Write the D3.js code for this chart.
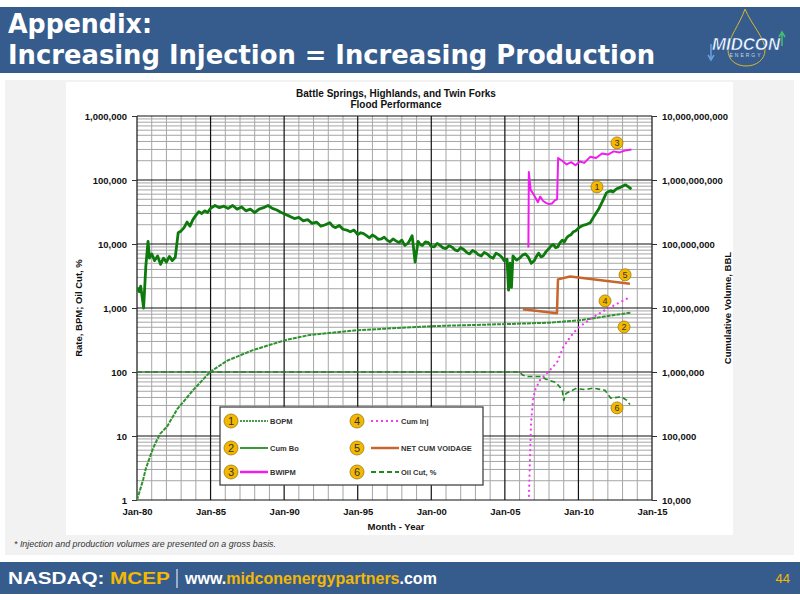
<!DOCTYPE html>
<html>
<head>
<meta charset="utf-8">
<script src="https://cdn.jsdelivr.net/npm/d3@7"></script>
<style>
  body { margin: 0; background: #fff; }
  svg { display: block; font-family: 'Liberation Sans', Arial, sans-serif; }
  .tick text { font-size: 9.5px; font-weight: bold; fill: #111; }
  .tick line { stroke: #333; }
</style>
</head>
<body>
<svg id="chart" width="800" height="600"></svg>
<script>
'use strict';

// ---- data ----
var xTickYears = [1980, 1985, 1990, 1995, 2000, 2005, 2010, 2015];
var xTickLabels = ['Jan-80', 'Jan-85', 'Jan-90', 'Jan-95', 'Jan-00', 'Jan-05', 'Jan-10', 'Jan-15'];
var leftTicks = [1, 10, 100, 1000, 10000, 100000, 1000000];
var rightTicks = [1e4, 1e5, 1e6, 1e7, 1e8, 1e9, 1e10];

// 1: BOPM (left axis)
var bopmYears = [1980.0, 1980.15, 1980.25, 1980.35, 1980.45, 1980.6, 1980.75, 1980.85, 1981.0, 1981.2,
  1981.4, 1981.6, 1981.8, 1982.0, 1982.2, 1982.4, 1982.6, 1982.8, 1983.0, 1983.2,
  1983.4, 1983.6, 1983.8, 1984.0, 1984.2, 1984.4, 1984.6, 1984.8, 1985.0, 1985.3,
  1985.6, 1985.9, 1986.2, 1986.5, 1986.8, 1987.1, 1987.4, 1987.7, 1988.0, 1988.3,
  1988.6, 1988.9, 1989.2, 1989.5, 1989.8, 1990.1, 1990.4, 1990.7, 1991.0, 1991.3,
  1991.6, 1991.9, 1992.2, 1992.5, 1992.8, 1993.1, 1993.3, 1993.5, 1993.75, 1994.0,
  1994.25, 1994.5, 1994.75, 1995.0, 1995.2, 1995.4, 1995.6, 1995.8, 1996.0, 1996.2,
  1996.4, 1996.6, 1996.8, 1997.0, 1997.2, 1997.4, 1997.6, 1997.8, 1998.0, 1998.2,
  1998.4, 1998.5, 1998.7, 1998.9, 1999.1, 1999.25, 1999.4, 1999.6, 1999.8, 2000.0,
  2000.2, 2000.4, 2000.6, 2000.8, 2001.0, 2001.2, 2001.4, 2001.6, 2001.8, 2002.0,
  2002.2, 2002.4, 2002.6, 2002.8, 2003.0, 2003.2, 2003.4, 2003.6, 2003.8, 2004.0,
  2004.2, 2004.4, 2004.6, 2004.8, 2004.95, 2005.15, 2005.25, 2005.35, 2005.45, 2005.55,
  2005.8, 2006.0, 2006.2, 2006.4, 2006.6, 2006.8, 2007.0, 2007.15, 2007.3, 2007.45,
  2007.6, 2007.8, 2008.0, 2008.15, 2008.3, 2008.45, 2008.6, 2008.75, 2008.9, 2009.05,
  2009.2, 2009.35, 2009.5, 2009.65, 2009.8, 2010.1, 2010.3, 2010.5, 2010.8, 2011.1,
  2011.4, 2011.7, 2011.9, 2012.05, 2012.2, 2012.35, 2012.5, 2012.65, 2012.8, 2013.0,
  2013.2, 2013.4, 2013.6];
var bopmRates = [2100, 1800, 2200, 1500, 1000, 4500, 11000, 6000, 7000, 5500,
  6500, 4800, 6000, 5200, 6400, 5500, 6200, 15000, 16000, 18000,
  22000, 19000, 24000, 28000, 32000, 30000, 33000, 31000, 36000, 40000,
  37000, 39000, 36000, 40000, 35000, 38000, 33000, 35000, 31000, 35000,
  37000, 40000, 36000, 34000, 31000, 29000, 27000, 25000, 26000, 23000,
  24000, 21000, 22000, 19000, 20000, 21500, 19000, 18000, 19500, 17000,
  16500, 15500, 16500, 14000, 15000, 14500, 13500, 12500, 13800, 13000,
  11800, 12000, 12800, 11500, 10800, 12000, 11200, 10500, 11500, 9500,
  10200, 11000, 13500, 5200, 11000, 9800, 9500, 10800, 10500, 9200,
  9000, 10200, 9500, 8700, 8500, 9400, 9000, 8100, 7800, 8800,
  8200, 7400, 7000, 7900, 7500, 6800, 6500, 7400, 7000, 6300,
  6000, 7200, 6800, 6200, 5500, 5800, 1900, 5000, 2100, 6500,
  5600, 6000, 6700, 7000, 6200, 5000, 5500, 6400, 7200, 6300,
  6500, 7600, 8500, 9400, 9800, 8800, 9000, 10500, 11500, 10800,
  12500, 13500, 14000, 15500, 16000, 18500, 19500, 20000, 21500, 28000,
  36000, 50000, 63000, 66000, 68000, 65000, 70000, 74000, 76000, 80000,
  84000, 78000, 72000];

// 2: Cum Bo (right axis)
var cumBoYears = [1980.0, 1980.41, 1980.6, 1980.88, 1981.1, 1981.36, 1981.6, 1982.04, 1982.72, 1983.81,
  1984.96, 1986.12, 1987.88, 1990.19, 1991.76, 1995.0, 2000.0, 2005.0, 2008.0, 2010.0,
  2011.0, 2012.0, 2013.6];
var cumBoVolumes = [10000, 20500, 31000, 47000, 65000, 87000, 110000, 140000, 260000, 520000,
  1000000, 1500000, 2200000, 3200000, 3800000, 4500000, 5200000, 5600000, 5900000, 6400000,
  6900000, 7500000, 8500000];

// 3: BWIPM (left axis)
var bwipmYears = [2006.6, 2006.63, 2006.75, 2006.95, 2007.1, 2007.25, 2007.4, 2007.6, 2007.8, 2008.0,
  2008.2, 2008.4, 2008.55, 2008.62, 2008.9, 2009.2, 2009.5, 2009.8, 2010.1, 2010.4,
  2010.8, 2011.2, 2011.6, 2012.0, 2012.4, 2012.8, 2013.2, 2013.6];
var bwipmRates = [8800, 133000, 70000, 60000, 52000, 45000, 55000, 47000, 44000, 42000,
  43000, 48000, 50000, 220000, 200000, 175000, 190000, 170000, 195000, 185000,
  230000, 220000, 260000, 250000, 280000, 270000, 290000, 300000];

// 4: Cum Inj (right axis)
var cumInjYears = [2006.62, 2006.71, 2006.78, 2006.91, 2007.05, 2007.39, 2007.93, 2008.54, 2008.95, 2009.43,
  2009.97, 2010.92, 2011.81, 2013.3];
var cumInjVolumes = [8000, 47000, 160000, 360000, 520000, 750000, 1000000, 1400000, 2400000, 3500000,
  4900000, 7000000, 9300000, 14000000];

// 5: Net cum voidage (right axis)
var voidageYears = [2006.23, 2008.54, 2008.61, 2009.43, 2013.5];
var voidageVolumes = [9600000, 8300000, 28000000, 31000000, 24000000];

// 6: Oil cut, % (left axis)
var oilCutYears = [1980.0, 2006.0, 2006.2, 2006.5, 2007.5, 2007.8, 2008.5, 2008.9, 2009.0, 2009.15,
  2009.8, 2010.5, 2011.0, 2011.8, 2012.2, 2012.9, 2013.3, 2013.5];
var oilCutPercents = [100, 100, 90, 85, 85, 77, 68, 52, 36, 46,
  55, 53, 56, 52, 39, 41, 36, 31];

// numbered markers, placed in (year, left-axis value)
var badgeNumbers = [1, 2, 3, 4, 5, 6];
var badgeYears = [2011.26, 2013.1, 2012.62, 2011.81, 2013.17, 2012.62];
var badgeValues = [78000, 505, 380000, 1290, 3300, 27.5];

var legendNames = ['BOPM', 'Cum Bo', 'BWIPM', 'Cum Inj', 'NET CUM VOIDAGE', 'Oil Cut, %'];

// ---- layout ----
var blue = '#365c8d';
var gold = '#f5b800';
var plot = {left: 137, right: 652, top: 116, bottom: 500};

var svg = d3.select('#chart');

// header band
svg.append('rect').attr('x', 0).attr('y', 7).attr('width', 800).attr('height', 66).attr('fill', blue);
svg.append('text').text('Appendix:')
    .attr('x', 8).attr('y', 33)
    .attr('textLength', 144).attr('lengthAdjust', 'spacingAndGlyphs')
    .style('font-family', "'DejaVu Sans', sans-serif").style('font-weight', 'bold')
    .style('font-size', '26px').attr('fill', '#fff');
svg.append('text').text('Increasing Injection = Increasing Production')
    .attr('x', 8).attr('y', 64)
    .attr('textLength', 647).attr('lengthAdjust', 'spacingAndGlyphs')
    .style('font-family', "'DejaVu Sans', sans-serif").style('font-weight', 'bold')
    .style('font-size', '26px').attr('fill', '#fff');

// logo
var logo = svg.append('g');
logo.append('path')
    .attr('d', 'M745,9 C740,24 728,38 728,50 C728,60 736,66 746,66 C756,66 765,60 765,50 C765,38 751,24 745,9Z')
    .attr('fill', 'none').attr('stroke', '#d8b830').attr('stroke-width', 1);
logo.append('text').text('MIDCON')
    .attr('x', 746).attr('y', 50).attr('text-anchor', 'middle')
    .attr('textLength', 68).attr('lengthAdjust', 'spacingAndGlyphs')
    .style('font-size', '16px').style('font-weight', 'bold').style('font-style', 'italic')
    .attr('fill', '#fff').attr('stroke', '#2a5aa8').attr('stroke-width', 0.5);
logo.append('text').text('ENERGY')
    .attr('x', 746).attr('y', 57).attr('text-anchor', 'middle')
    .style('font-size', '5px').style('letter-spacing', '2px').attr('fill', '#cfd8e8');
logo.append('path').attr('d', 'M711,44 L711,58 M708,55 L711,60 L714,55')
    .attr('stroke', '#6aa0e0').attr('stroke-width', 1.5).attr('fill', 'none');
logo.append('path').attr('d', 'M782,46 L782,34 M779,37 L782,32 L785,37')
    .attr('stroke', '#40c070').attr('stroke-width', 1.5).attr('fill', 'none');

// grey panel and white chart box
svg.append('rect').attr('x', 5).attr('y', 80).attr('width', 789).attr('height', 475).attr('fill', '#f2f2f2');
svg.append('rect').attr('x', 66).attr('y', 82).attr('width', 667).attr('height', 453).attr('fill', '#fff');

// footnote
svg.append('text').text('* Injection and production volumes are presented on a gross basis.')
    .attr('x', 14).attr('y', 547)
    .attr('textLength', 262).attr('lengthAdjust', 'spacingAndGlyphs')
    .style('font-size', '8.5px').style('font-style', 'italic').attr('fill', '#333');

// footer band: each run is one text with coloured tspans, squeezed to width
svg.append('rect').attr('x', 0).attr('y', 562).attr('width', 800).attr('height', 32).attr('fill', blue);
function footerText(parts, left, width) {
  var t = svg.append('text').attr('x', 0).attr('y', 0)
      .style('font-size', '17px').style('font-weight', 'bold').attr('fill', '#fff');
  parts.forEach(function(p) {
    t.append('tspan').text(p[0]).attr('fill', p[1]);
  });
  var natural = t.node().getComputedTextLength();
  t.attr('transform', 'translate(' + left + ',584) scale(' + (width / natural) + ',1)');
}
footerText([['NASDAQ: ', '#fff'], ['MCEP', gold]], 8, 162);
footerText([['www.', '#fff'], ['midconenergypartners', gold], ['.com', '#fff']], 185, 252);
svg.append('line').attr('x1', 177).attr('x2', 177).attr('y1', 569).attr('y2', 588)
    .attr('stroke', '#fff').attr('stroke-width', 1);
svg.append('text').text('44').attr('x', 790).attr('y', 583).attr('text-anchor', 'end')
    .style('font-size', '13px').attr('fill', gold);

// ---- scales ----
var x = d3.scaleLinear().domain([1980, 2015]).range([plot.left, plot.right]);
var yL = d3.scaleLog().domain([1, 1e6]).range([plot.bottom, plot.top]);
var yR = d3.scaleLog().domain([1e4, 1e10]).range([plot.bottom, plot.top]);

// grid
var grid = svg.append('g');
var minorY = [];
leftTicks.slice(0, -1).forEach(function(d) {
  for (var m = 2; m <= 9; m++) minorY.push(d * m);
});
var minorX = d3.range(1980, 2016).filter(function(d) { return d % 5 !== 0; });

grid.selectAll('.hminor').data(minorY).enter().append('line')
    .attr('x1', plot.left).attr('x2', plot.right)
    .attr('y1', function(d) { return yL(d); }).attr('y2', function(d) { return yL(d); })
    .attr('stroke', '#a6a6a6').attr('stroke-width', 1);
grid.selectAll('.vminor').data(minorX).enter().append('line')
    .attr('y1', plot.top).attr('y2', plot.bottom)
    .attr('x1', function(d) { return x(d); }).attr('x2', function(d) { return x(d); })
    .attr('stroke', '#a6a6a6').attr('stroke-width', 1);
grid.selectAll('.hmajor').data(leftTicks).enter().append('line')
    .attr('x1', plot.left).attr('x2', plot.right)
    .attr('y1', function(d) { return yL(d); }).attr('y2', function(d) { return yL(d); })
    .attr('stroke', '#111').attr('stroke-width', 1.2);
grid.selectAll('.vmajor').data(xTickYears).enter().append('line')
    .attr('y1', plot.top).attr('y2', plot.bottom)
    .attr('x1', function(d) { return x(d); }).attr('x2', function(d) { return x(d); })
    .attr('stroke', '#111').attr('stroke-width', 1.2);

// axes
var fmt = d3.format(',');
svg.append('g').attr('transform', 'translate(' + plot.left + ',0)')
    .call(d3.axisLeft(yL).tickValues(leftTicks).tickFormat(fmt).tickSize(5).tickPadding(5))
    .call(function(g) { g.select('.domain').remove(); });
svg.append('g').attr('transform', 'translate(' + plot.right + ',0)')
    .call(d3.axisRight(yR).tickValues(rightTicks).tickFormat(fmt).tickSize(5).tickPadding(5))
    .call(function(g) { g.select('.domain').remove(); });
svg.append('g').attr('transform', 'translate(0,' + plot.bottom + ')')
    .call(d3.axisBottom(x).tickValues(xTickYears)
      .tickFormat(function(d, i) { return xTickLabels[i]; }).tickSize(0).tickPadding(8))
    .call(function(g) { g.select('.domain').remove(); });

// titles
svg.append('text').text('Battle Springs, Highlands, and Twin Forks')
    .attr('x', 396).attr('y', 97).attr('text-anchor', 'middle')
    .style('font-size', '10px').style('font-weight', 'bold').attr('fill', '#111');
svg.append('text').text('Flood Performance')
    .attr('x', 396).attr('y', 108).attr('text-anchor', 'middle')
    .style('font-size', '10px').style('font-weight', 'bold').attr('fill', '#111');
svg.append('text').text('Month - Year')
    .attr('x', 396).attr('y', 530).attr('text-anchor', 'middle')
    .style('font-size', '9.5px').style('font-weight', 'bold').attr('fill', '#111');
svg.append('text').text('Rate, BPM; Oil Cut, %')
    .attr('transform', 'translate(82,308) rotate(-90)').attr('text-anchor', 'middle')
    .style('font-size', '9.5px').style('font-weight', 'bold').attr('fill', '#111');
svg.append('text').text('Cumulative Volume, BBL')
    .attr('transform', 'translate(731,308) rotate(-90)').attr('text-anchor', 'middle')
    .style('font-size', '9.5px').style('font-weight', 'bold').attr('fill', '#111');

// ---- series ----
svg.append('clipPath').attr('id', 'plotclip').append('rect')
    .attr('x', plot.left).attr('y', plot.top)
    .attr('width', plot.right - plot.left).attr('height', plot.bottom - plot.top);
var series = svg.append('g').attr('clip-path', 'url(#plotclip)');

function drawSeries(years, values, yScale, style) {
  var line = d3.line()
      .x(function(d) { return x(d[0]); })
      .y(function(d) { return yScale(d[1]); });
  series.append('path')
      .datum(d3.zip(years, values))
      .attr('d', line)
      .attr('fill', 'none')
      .attr('stroke', style.color)
      .attr('stroke-width', style.width)
      .attr('stroke-dasharray', style.dash || null)
      .attr('stroke-linecap', style.cap || 'butt')
      .attr('stroke-linejoin', 'round');
}

drawSeries(oilCutYears, oilCutPercents, yL, {color: '#1f8a1f', width: 1.6, dash: '5,3'});
drawSeries(cumBoYears, cumBoVolumes, yR, {color: '#2f922f', width: 2, dash: '4,1'});
drawSeries(voidageYears, voidageVolumes, yR, {color: '#c8652a', width: 2.5});
drawSeries(cumInjYears, cumInjVolumes, yR, {color: '#f03cf0', width: 2.2, dash: '0.1,5', cap: 'round'});
drawSeries(bopmYears, bopmRates, yL, {color: '#0e7a0e', width: 2.8});
drawSeries(bwipmYears, bwipmRates, yL, {color: '#f01cf0', width: 2});

// numbered badges
function badge(g, cx, cy, r, n, size) {
  g.append('circle').attr('cx', cx).attr('cy', cy).attr('r', r)
      .attr('fill', gold).attr('stroke', '#9a7a10').attr('stroke-width', 0.8);
  g.append('text').text(n).attr('x', cx).attr('y', cy).attr('dy', '0.36em')
      .attr('text-anchor', 'middle').style('font-size', size + 'px').attr('fill', '#333');
}
var badges = svg.append('g');
badgeNumbers.forEach(function(n, i) {
  badge(badges, x(badgeYears[i]), yL(badgeValues[i]), 6, n, 9);
});

// legend
var legend = svg.append('g');
legend.append('rect').attr('x', 220).attr('y', 407).attr('width', 263).attr('height', 78)
    .attr('fill', '#fff').attr('stroke', '#444').attr('stroke-width', 1.3);
var legendStyles = [
  {color: '#0e7a0e', width: 1.5, dash: '2,1'},
  {color: '#3a9a3a', width: 2},
  {color: '#f01cf0', width: 2.5},
  {color: '#f03cf0', width: 2, dash: '2,3'},
  {color: '#c8652a', width: 2.5},
  {color: '#1f8a1f', width: 2, dash: '5,3'}
];
var rowY = [421, 448, 472];
legendNames.forEach(function(name, i) {
  var col = Math.floor(i / 3), row = i % 3;
  var cx = col === 0 ? 231 : 357;
  var lx = col === 0 ? 240 : 371;
  var cy = rowY[row];
  badge(legend, cx, cy, 7, i + 1, 11);
  legend.append('line').attr('x1', lx).attr('x2', lx + 28).attr('y1', cy).attr('y2', cy)
      .attr('stroke', legendStyles[i].color).attr('stroke-width', legendStyles[i].width)
      .attr('stroke-dasharray', legendStyles[i].dash || null);
  legend.append('text').text(name).attr('x', lx + 30).attr('y', cy).attr('dy', '0.35em')
      .style('font-size', '7.5px').style('font-weight', 'bold').attr('fill', '#333');
});
</script>
</body>
</html>
